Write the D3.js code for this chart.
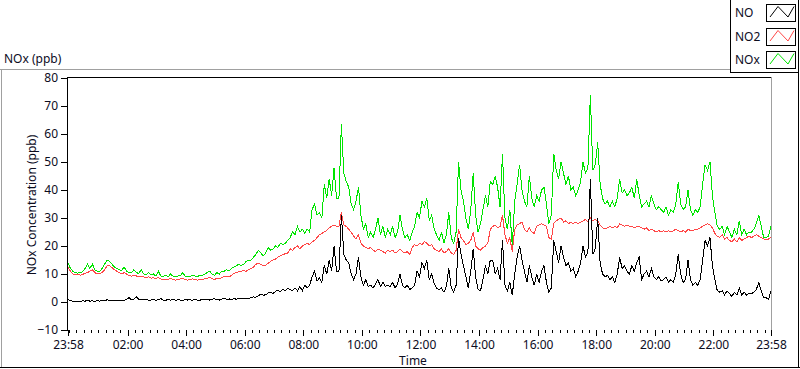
<!DOCTYPE html>
<html><head><meta charset="utf-8">
<script src="https://cdn.jsdelivr.net/npm/d3@7"></script>
<style>
body{margin:0;background:#fff;overflow:hidden;}
svg text{font-family:"Noto Sans",sans-serif;fill:#0c0c1e;}
</style></head><body>
<svg id="c" width="800" height="369"></svg>
<script>
// ---- data (5-minute samples starting 23:58) ----
const startLabel = "23:58";
const stepMinutes = 5;
const seriesNames = ["NO", "NO2", "NOx"];
const seriesColors = ["#000000", "#ff4646", "#00e400"];
const yTicks = [-10, 0, 10, 20, 30, 40, 50, 60, 70, 80];
const xTickLabels = ["23:58","02:00","04:00","06:00","08:00","10:00","12:00","14:00","16:00","18:00","20:00","22:00","23:58"];

const NO = [
0.8,0.5,0.3,0.2,0.3,0.2,0.4,0.3,0.6,0.3,
0.4,0.2,0.5,0.3,0.6,0.4,0.8,0.5,0.7,0.5,
0.6,0.4,0.7,0.6,0.9,1.6,0.8,1.0,1.8,0.9,
0.7,0.8,1.1,0.6,0.7,0.9,0.6,0.8,1.2,0.7,
0.6,0.9,0.7,1.0,0.6,0.8,0.7,0.5,1.0,0.7,
0.8,0.6,0.9,0.7,0.6,1.0,0.8,1.1,0.7,0.9,
1.2,0.8,0.7,1.0,1.3,0.9,1.1,0.9,1.2,1.0,
1.3,1.1,1.2,1.4,1.3,1.5,1.8,1.7,2.2,2.8,
2.4,2.6,3.2,3.5,3.0,3.8,4.2,3.6,4.5,3.9,
4.8,4.5,4,5,4,5.5,4,6,5,6,
9,11,7.5,8.5,7,13,10,15,11,20,
11,11,31,17,15,14,10,8,10,16,
9,6,8,5.5,6,5,6.5,8,5.5,7,
5.5,6,5.5,7,5,6.5,10,6,5,6,
4.5,5,6,11,9,14,12,15,8,10,
6.5,5,4.5,5,3.5,5.5,12,5,3.5,6,
23,17,13,9,5,11,19,9,4.5,4,
8,13,10,15,15,10,12,8,22,6,
4,7,2.5,10,16,20,15,11,7,13,
9,6,10,7,11,13,7,3.5,5,22,
18,14,20,16,13,14,11,12,9,11,
14,20,16,18,44,17,19,30,14,10,
9,9.5,8,9,7,10,16,12,13,11,
10,13,11,14,16,8,10,11,9,12,
9,8,9,7.5,8,9,7,8,7,10,
17,10,7,8,15,8,6,7,6,8,
15,22,20,23,13,8,4,3.5,4,2.5,
4,3,2,3.5,2.5,5,2.5,3.5,2.5,3,
3,3.5,4.5,7,4,1.5,1.5,1,4
];

const NO2 = [
12.5,11,10,10,9.8,9.6,9.8,10.3,10.5,11,
11.5,10.5,10,10.2,10.5,11.5,13,13,12.3,11.5,
11,10.5,10,10.5,10,9.5,9.2,9.5,9.3,9.0,
9.2,9.0,8.7,9.0,8.5,8.7,8.3,8.8,8.2,8.0,
8.2,8.0,8.5,8.0,7.8,8.0,8.2,8.5,8.0,7.8,
8.0,8.3,8.0,7.8,8.2,8.0,8.3,8.5,8.8,8.3,
8.0,8.5,8.3,8.8,9.0,9.2,9.0,9.5,10.2,10.5,
10.8,11,11.2,11.0,11.5,12,12.5,13.5,13.8,13.5,
13,13.2,13.8,14.5,15,15.3,16,16.5,17,17.2,
17.5,19,18.5,19.5,20,19,20,20.5,21,20.5,
21.5,22,23,24,24.5,25,25.5,26.5,27,27.5,
27,27,32,27.5,27,26,25,23.5,22.5,24,
21,20,19.5,19,19.5,18.5,18,19,18.5,18,
17.5,18.5,18,18.5,17.5,18,19,18,17.5,18,
17,19.5,20.5,20,21,20.5,21.5,21,20,20.5,
19,18.5,18,19,17.5,18,19,17.5,17,18.5,
26,23,22,20.5,21,22,25,20,19,18.5,
19.5,20,21,26,27,27.5,26.5,27,31,24,
21,23,18,26,27.5,28,28.5,26,25,26.5,
25,24.5,27,27.5,28,27.5,27,23,22.5,28,
29,29.5,30,28.5,29,28,28.5,28,28.5,28,
28.5,29,29.5,28.5,30,29,29.5,29,27.5,26.5,
26,26.5,27,26.5,27,26.5,28,27.5,27,27.5,
27,27,26.5,27,27,26.5,26,26.5,25.5,26,
25.5,25,25.5,25,25.5,25,25.5,25,25.5,26,
25.5,25,25.5,25,26,25.5,25.5,26,26,26.5,
27,27.5,28,27.5,26.5,24.5,23.5,23,24,22.5,
23,22,21.5,22.5,21.5,23,22,22.5,23,23.5,
23,23.5,24,23.5,23,22.5,22.5,22.5,23
];

const NOx = [
14,12,11,10.5,10.3,10.5,10.8,12,13.5,12,
13.5,11.5,11,11,12,13.5,15,14.5,13.5,12.5,
12,11.5,11.3,12.5,11,10.5,10.5,11.5,10.5,10.2,
11.5,10,9.8,10.5,9.6,10,9.3,11,9.3,9.2,
9.5,9.0,10.0,9.2,9,9.3,9.4,10.5,9.3,9,
9.2,9.5,9.3,9.1,9.5,9.5,10,10.5,11,10,
9.5,10.5,10,11,11,11.5,11,12,12.5,13,
13.5,13,13.5,14.5,15,15,16,17,18.5,17.5,
16.5,17.5,19.5,18.5,19,20,19.5,21,20.5,21,
22,23,25,24,27,25,26,24.5,26,25,
33,35,31,32,30,42,37,44,38,48,
37,37,63.5,46,43,41,35,33,36,41,
31,26,28,23,25,23,26,30,24,27,
23,26,24,27,23,25,31,26,23,24,
22,25,27,32,30,36,34,37,29,31,
26,24,22,25,21,24,32,23,21,25,
50,40,36,30,26,33,46,31,25,28,
33,38,34,43,42,45,41,34,53,30,
26,33,20,36,42,49,40,36,34,45,
37,34,38,36,40,41,35,28,31,53,
47,44,50,46,42,45,40,41,38,40,
43,50,46,48,74,47,49,57,42,37,
35,36,34,36,34,37,44,39,40,38,
39,41,37,44,38,34,35,36,34,38,
35,33,34,33,32,34,31,33,32,35,
43,35,33,34,40,33,31,33,32,34,
42,49,47,50,38,32,27,26,27,24,
27,25,23,26,24,29,24,26,24,25,
25,26,28,31,27,23,23,23.5,27
];

// ---- build ----
const svg = d3.select("#c");
const parseHM = s => s.split(":").map(Number);
const [sh, sm] = parseHM(startLabel);
const t0 = new Date(2020, 0, 1, sh, sm);
const t1 = d3.timeMinute.offset(t0, 1440);
const timeOf = i => d3.timeMinute.offset(t0, i * stepMinutes);

const x = d3.scaleTime().domain([t0, t1]).range([68, 771]);
const y = d3.scaleLinear().domain([-10, 80]).range([330, 78]);

// outer frame
const frame = svg.append("g").attr("shape-rendering", "crispEdges");
frame.append("line").attr("x1", 0).attr("x2", 730).attr("y1", 69.5).attr("y2", 69.5).attr("stroke", "#a0a0a0");
frame.append("line").attr("x1", 1.5).attr("x2", 1.5).attr("y1", 69).attr("y2", 368).attr("stroke", "#a0a0a0");
frame.append("line").attr("x1", 0).attr("x2", 800).attr("y1", 367.5).attr("y2", 367.5).attr("stroke", "#000");
frame.append("line").attr("x1", 798.5).attr("x2", 798.5).attr("y1", 0).attr("y2", 368).attr("stroke", "#000");

// title
svg.append("text").attr("x", 4).attr("y", 63).attr("font-size", 12).text("NOx (ppb)");

// plot frame
frame.append("line").attr("x1", 67).attr("x2", 772).attr("y1", 77.5).attr("y2", 77.5).attr("stroke", "#000");
frame.append("line").attr("x1", 771.5).attr("x2", 771.5).attr("y1", 77).attr("y2", 330).attr("stroke", "#a0a0a0");

// series
const line = d3.line().x((d, i) => x(timeOf(i))).y(d => y(d));
const dataSets = [NO, NO2, NOx];
[2, 1, 0].forEach(k => {
  svg.append("path").datum(dataSets[k])
    .attr("d", line)
    .attr("fill", "none")
    .attr("stroke", seriesColors[k])
    .attr("stroke-width", 1)
    .attr("shape-rendering", "crispEdges")
    .attr("stroke-linejoin", "miter");
});

// y axis
const yAxis = svg.append("g").attr("transform", "translate(67,0)")
  .call(d3.axisLeft(y).tickValues(yTicks).tickSize(6).tickPadding(3).tickFormat(d3.format("d")));
yAxis.selectAll("text").attr("font-size", 12).attr("font-family", "Noto Sans").attr("fill", "#0c0c1e");
yAxis.selectAll("line,path").attr("stroke", "#000").attr("shape-rendering", "crispEdges");

// x axis
const majorDates = xTickLabels.map((s, k) => {
  if (k === 0) return t0;
  if (k === xTickLabels.length - 1) return t1;
  const [h, m] = parseHM(s);
  return new Date(2020, 0, 2, h, m);
});
const minorDates = d3.timeMinute.every(15).range(d3.timeMinute.offset(t0, 1), t1);
const xMinor = svg.append("g").attr("transform", "translate(0,330)")
  .call(d3.axisBottom(x).tickValues(minorDates).tickSize(3).tickFormat(""));
xMinor.select(".domain").remove();
xMinor.selectAll("line").attr("stroke", "#000").attr("shape-rendering", "crispEdges");

const xAxis = svg.append("g").attr("transform", "translate(0,330)")
  .call(d3.axisBottom(x).tickValues(majorDates).tickSize(6).tickPadding(4)
    .tickFormat((d, k) => xTickLabels[k]));
xAxis.select(".domain").remove();
xAxis.selectAll("line").attr("stroke", "#000").attr("shape-rendering", "crispEdges");
xAxis.selectAll("text").attr("font-size", 12).attr("font-family", "Noto Sans").attr("fill", "#0c0c1e");

// axis titles
svg.append("text").attr("x", 413).attr("y", 365).attr("text-anchor", "middle").attr("font-size", 12).text("Time");
svg.append("text").attr("transform", "translate(36,205) rotate(-90)").attr("text-anchor", "middle")
  .attr("font-size", 12).text("NOx Concentration (ppb)");

// legend
const lg = svg.append("g");
lg.append("line").attr("x1", 730.5).attr("x2", 730.5).attr("y1", 0).attr("y2", 73).attr("stroke", "#000").attr("shape-rendering", "crispEdges");
lg.append("line").attr("x1", 730).attr("x2", 799).attr("y1", 72.5).attr("y2", 72.5).attr("stroke", "#000").attr("shape-rendering", "crispEdges");
const legY = [4, 28, 51];
seriesNames.forEach((n, k) => {
  const g = lg.append("g").attr("transform", `translate(0,${legY[k]})`);
  g.append("text").attr("x", 735).attr("y", 13).attr("font-size", 12).text(n);
  g.append("rect").attr("x", 766.5).attr("y", 0.5).attr("width", 29).attr("height", 17)
    .attr("fill", "#fff").attr("stroke", "#000").attr("shape-rendering", "crispEdges");
  g.append("polyline").attr("points", "770,13 778,2.5 788,13 794,2.5")
    .attr("fill", "none").attr("stroke", seriesColors[k]).attr("stroke-width", 1);
});
</script>
</body></html>
